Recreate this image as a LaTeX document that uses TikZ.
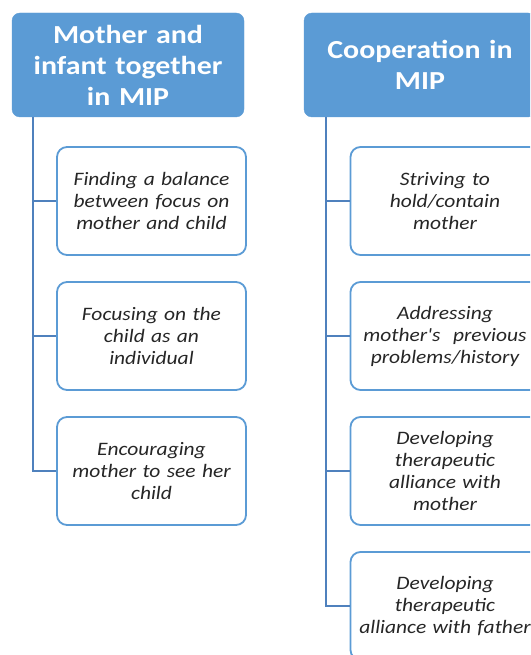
\documentclass[tikz,border=0pt]{standalone}
\usepackage{fontspec}
\setmainfont{Carlito}
\newfontfamily\widefont[FakeStretch=1.15]{Carlito}
\newfontfamily\wideitfont[FakeStretch=1.13]{Carlito}
\usepackage{tikz}

\definecolor{hdblue}{HTML}{5B9BD5}
\definecolor{lnblue}{HTML}{4F81BD}
\definecolor{txgray}{HTML}{262626}

\tikzset{
  header/.style={fill=hdblue, draw=hdblue, rounded corners=8pt, minimum width=232pt, minimum height=104pt,
    text width=222pt, align=center, text=white, font=\widefont\fontsize{26}{31}\selectfont\bfseries},
  theme/.style={fill=white, draw=hdblue, line width=1.8pt, rounded corners=10pt, minimum width=189pt, minimum height=108pt,
    text width=180pt, align=center, text=txgray, font=\wideitfont\fontsize{19}{22}\selectfont\itshape},
  link/.style={draw=lnblue, line width=2pt}
}

\begin{document}
\begin{tikzpicture}[x=1pt, y=-1pt]
  \useasboundingbox (0,0) rectangle (530,655);
  \clip (0,0) rectangle (530,655);

  \node[header] (motherhd) at (128,65) {Mother and\\infant together\\in MIP};
  \node[header] (coophd) at (420,65) {Cooperation in\\MIP};

  \foreach \n/\y/\t in {bal/201/{Finding a balance\\between focus on\\mother and child},
                        indiv/336/{Focusing on the\\child as an\\individual},
                        see/471/{Encouraging\\mother to see her\\child}}
   {
    \node[theme] (\n) at (151.5,\y) {\t};
   }

  \foreach \n/\y/\t in {hold/201/{Striving to\\hold/contain\\mother},
                        hist/336/{Addressing\\mother's~ previous\\problems/history},
                        allmo/471/{Developing\\therapeutic\\alliance with\\mother},
                        allfa/606/{Developing\\therapeutic\\alliance with father}}
   {
    \node[theme] (\n) at (445,\y) {\t};
   }

  % trunks hang from the headers, one elbow per theme
  \coordinate (mtrunk) at ([xshift=21pt]motherhd.south west);
  \coordinate (ctrunk) at ([xshift=22pt]coophd.south west);
  \foreach \n in {bal,indiv,see}
    \draw[link] (mtrunk) |- (\n.west);
  \foreach \n in {hold,hist,allmo,allfa}
    \draw[link] (ctrunk) |- (\n.west);
\end{tikzpicture}
\end{document}
